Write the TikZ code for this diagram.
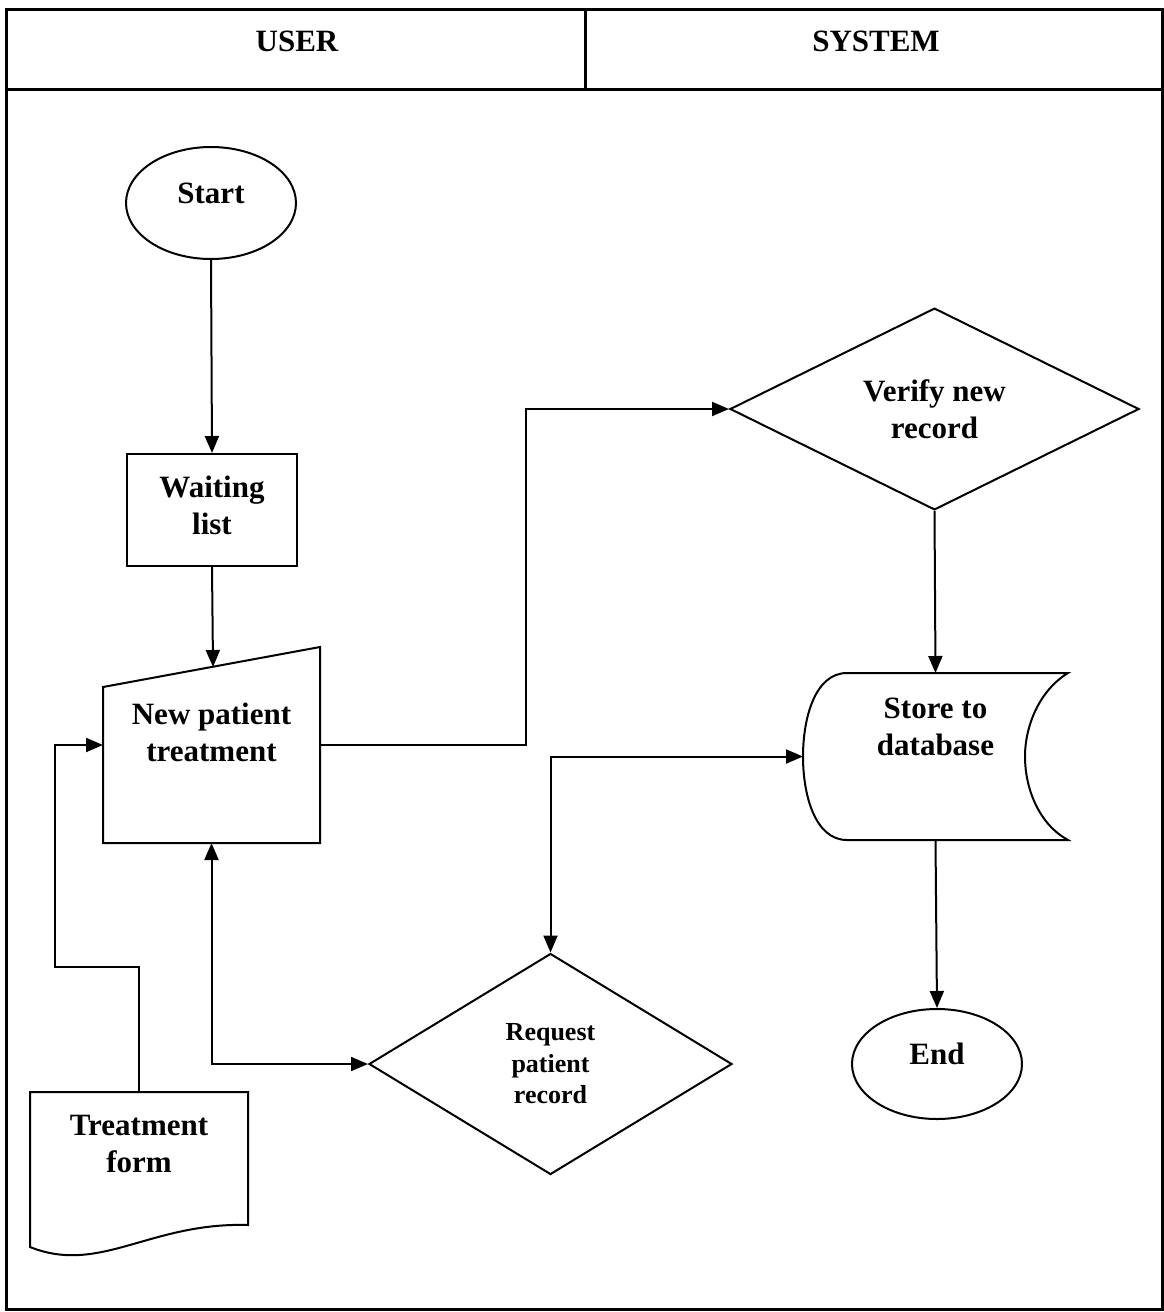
\documentclass[tikz,border=0pt]{standalone}
\usepackage{fontspec}
\setmainfont{Liberation Serif}
\usetikzlibrary{shapes.geometric,arrows.meta,calc}
\newcommand\lblfont{\fontsize{31}{37}\selectfont\bfseries}
\newcommand\smallfnt{\fontsize{26}{31.5}\selectfont\bfseries}
\tikzset{
  shapeline/.style={draw, line width=2pt},
  lbl/.style={font=\lblfont, align=center, inner sep=0pt},
  holder/.style={inner sep=0pt, outer sep=0pt},
  flow/.style={line width=2pt, -{Triangle[length=17pt,width=14pt]}},
  flowboth/.style={line width=2pt, {Triangle[length=17pt,width=14pt]}-{Triangle[length=17pt,width=14pt]}},
}
\begin{document}
\begin{tikzpicture}[x=1pt,y=-1pt]
\useasboundingbox (0,0) rectangle (1164,1312);

% swimlane frame
\draw[line width=3pt] (6,9) rectangle (1162,1309);
\draw[line width=3pt] (6,89) -- (1162,89);
\draw[line width=3pt] (585,9) -- (585,89);
\node[lbl] (userlane) at (297,41) {USER};
\node[lbl] (syslane) at (876,41) {SYSTEM};

% terminators and process box
\node[ellipse, shapeline, lbl, minimum width=170pt, minimum height=112pt, text depth=20pt] (start) at (211,203) {Start};
\node[rectangle, shapeline, minimum width=170pt, minimum height=112pt] (wait) at (212,510) {};
\node[lbl] (waittext) at ([yshift=5pt]wait.center) {Waiting\\list};
\node[ellipse, shapeline, lbl, minimum width=170pt, minimum height=110pt, text depth=20pt] (end) at (937,1064) {End};

% decisions
\node[diamond, shapeline, lbl, minimum width=409pt, minimum height=196pt] (verify) at (934.5,409) {Verify new\\record};
\node[diamond, shapeline, font=\smallfnt, align=center, inner sep=0pt, minimum width=363pt, minimum height=221pt] (req) at (550.5,1064) {Request\\patient\\record};

% manual input: New patient treatment
\node[holder, minimum width=217pt, minimum height=196pt] (np) at (211.5,745) {};
\draw[line width=2pt] ($(np.north west)+(0,40)$) -- (np.north east) -- (np.south east) -- (np.south west) -- cycle;
\coordinate (nptop) at ($(np.north west)!0.507!(np.north east)+(0,20)$);
\node[lbl] (nptext) at ([yshift=13pt]np.center) {New patient\\treatment};

% stored data: Store to database
\node[holder, minimum width=265pt, minimum height=167pt] (db) at (935.5,756.5) {};
\draw[line width=2pt] (847,673) -- (1068,673)
  .. controls (1040,690) and (1025,725) .. (1025,756.5)
  .. controls (1025,790) and (1040,825) .. (1068,840)
  -- (847,840)
  .. controls (815,840) and (803,795) .. (803,756.5)
  .. controls (803,718) and (815,673) .. (847,673) -- cycle;
\node[lbl] (dbtext) at ([yshift=30pt]db.center) {Store to\\database};

% document: Treatment form
\node[holder, minimum width=218pt, minimum height=155pt] (form) at (139,1169.5) {};
\draw[line width=2pt] (30,1092) -- (248,1092) -- (248,1225)
  .. controls (150,1222) and (100,1275) .. (30,1247) -- cycle;
\node[lbl] (formtext) at ([yshift=26pt]form.center) {Treatment\\form};

% connectors
\draw[flow] (start.south) -- (wait.north);
\draw[flow] (wait.south) -- (nptop);
\draw[flow] (np.east) -- ([xshift=206pt]np.east) |- (verify.west);
\draw[flow] (verify.south) -- (db.north);
\draw[flow] (db.south) -- (end.north);
\draw[flowboth] (db.west) -| (req.north);
\draw[flowboth] (np.south) |- (req.west);
\coordinate (formbend) at (55,967);
\draw[flow] (form.north) |- (formbend) |- (np.west);
\end{tikzpicture}
\end{document}
